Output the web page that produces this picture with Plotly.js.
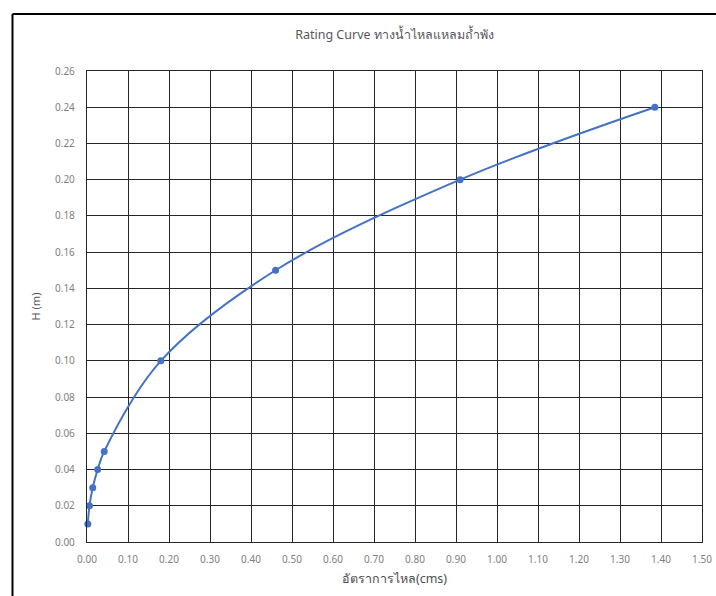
<!DOCTYPE html>
<html>
<head>
<meta charset="utf-8">
<script src="https://cdn.plot.ly/plotly-3.0.1.min.js"></script>
<style>html,body{margin:0;padding:0;background:#fff;}#chart{width:716px;height:596px;}</style>
</head>
<body>
<div id="chart"></div>
<script>
// Data
const flowQ = [0.002, 0.006, 0.014, 0.026, 0.042, 0.18, 0.46, 0.91, 1.385];
const stageH = [0.01, 0.02, 0.03, 0.04, 0.05, 0.10, 0.15, 0.20, 0.24];
const xTickVals = [0,0.1,0.2,0.3,0.4,0.5,0.6,0.7,0.8,0.9,1.0,1.1,1.2,1.3,1.4,1.5];
const yTickVals = [0,0.02,0.04,0.06,0.08,0.10,0.12,0.14,0.16,0.18,0.20,0.22,0.24,0.26];
const titleText = 'Rating Curve ทางน้ำไหลแหลมถ้ำพัง';
const xTitle = 'อัตราการไหล(cms)';
const yTitle = 'H (m)';

const W = 716, H = 596;
const m = {l: 87, r: 14, t: 71, b: 54};
const pw = W - m.l - m.r, ph = H - m.t - m.b;
const px = v => (v - m.l) / pw;
const py = v => (H - m.b - v) / ph;

const font = '"Noto Sans", "Open Sans", "DejaVu Sans", sans-serif';
const grid = '#262626';

const trace = {
  x: flowQ, y: stageH, type: 'scatter', mode: 'lines+markers',
  line: {color: '#4472C4', width: 2, shape: 'spline', smoothing: 1},
  marker: {color: '#4472C4', size: 7},
  cliponaxis: false, hoverinfo: 'x+y'
};

const layout = {
  width: W, height: H,
  margin: m,
  paper_bgcolor: '#ffffff', plot_bgcolor: '#ffffff',
  showlegend: false,
  font: {family: font, color: '#7f7f7f', size: 10},
  title: {text: titleText, x: 0.5, xanchor: 'center', xref: 'paper', y: 1 - 35 / H, yanchor: 'middle',
          font: {family: font, size: 12.5, color: '#595959'}},
  xaxis: {
    range: [0, 1.5], tickvals: xTickVals, tickformat: '.2f',
    showgrid: true, gridcolor: grid, gridwidth: 1.3,
    zeroline: false, showline: true, linecolor: grid, linewidth: 1.3, mirror: true,
    ticks: '', ticklabelstandoff: 8,
    tickfont: {family: font, size: 10, color: '#7f7f7f'},
    title: {text: xTitle, standoff: 9, font: {family: font, size: 12.5, color: '#4d4d4d'}}
  },
  yaxis: {
    range: [0, 0.26], tickvals: yTickVals, tickformat: '.2f',
    showgrid: true, gridcolor: grid, gridwidth: 1.3,
    zeroline: false, showline: true, linecolor: grid, linewidth: 1.3, mirror: true,
    ticks: '', ticklabelstandoff: 9,
    tickfont: {family: font, size: 10, color: '#7f7f7f'},
    title: {text: yTitle, standoff: 12, font: {family: font, size: 11, color: '#595959'}}
  },
  shapes: [
    {type: 'line', xref: 'paper', yref: 'paper', x0: px(12.5), x1: px(720), y0: py(14), y1: py(14),
     line: {color: '#000000', width: 2}},
    {type: 'line', xref: 'paper', yref: 'paper', x0: px(12.5), x1: px(12.5), y0: py(14), y1: py(600),
     line: {color: '#000000', width: 2}}
  ]
};

Plotly.newPlot('chart', [trace], layout, {displayModeBar: false, responsive: false});
</script>
</body>
</html>
